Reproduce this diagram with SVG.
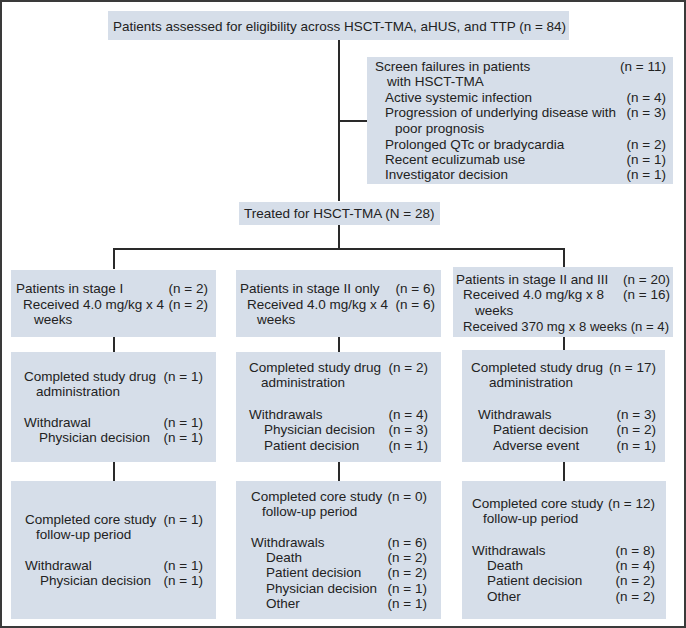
<svg xmlns="http://www.w3.org/2000/svg" width="686" height="628" viewBox="0 0 686 628">
<style>
.box{fill:#d6dee9;}
text{font-family:"Liberation Sans",Arial,sans-serif;font-size:13.5px;fill:#222;}
.r{text-anchor:end;}
.ln{stroke:#2a2a2a;stroke-width:2;fill:none;}
</style>
<rect x="1" y="1" width="684" height="626" fill="#fff" stroke="#3a3a3a" stroke-width="2"/>
<g id="connectors" class="ln">
<path d="M339 40V201"/>
<path d="M339 121H367"/>
<path d="M339 225V249"/>
<path d="M114 269V249H564V267"/>
<path d="M114 337V352M339 337V352M564 337V350"/>
<path d="M114 462V481M339 462V481M564 462V481"/>
</g>
<g id="assessed">
<rect class="box" x="108" y="11" width="461" height="29"/>
<text x="113" y="30.5">Patients assessed for eligibility across HSCT-TMA, aHUS, and TTP (n = 84)</text>
</g>
<g id="screen-failures">
<rect class="box" x="367" y="57" width="306" height="127"/>
<text x="375" y="71">Screen failures in patients</text><text class="r" x="666" y="71">(n = 11)</text>
<text x="387" y="86">with HSCT-TMA</text>
<text x="385" y="102">Active systemic infection</text><text class="r" x="666" y="102">(n = 4)</text>
<text x="385" y="117">Progression of underlying disease with</text><text class="r" x="666" y="117">(n = 3)</text>
<text x="395" y="133">poor prognosis</text>
<text x="385" y="148.5">Prolonged QTc or bradycardia</text><text class="r" x="666" y="148.5">(n = 2)</text>
<text x="385" y="164">Recent eculizumab use</text><text class="r" x="666" y="164">(n = 1)</text>
<text x="385" y="179">Investigator decision</text><text class="r" x="666" y="179">(n = 1)</text>
</g>
<g id="treated">
<rect class="box" x="239" y="202" width="201" height="23"/>
<text x="244" y="217.5">Treated for HSCT-TMA (N = 28)</text>
</g>
<g id="stage1">
<rect class="box" x="11" y="270" width="205" height="67"/>
<text x="16" y="293">Patients in stage I</text><text class="r" x="208" y="293">(n = 2)</text>
<text x="23" y="308.5">Received 4.0 mg/kg x 4</text><text class="r" x="208" y="308.5">(n = 2)</text>
<text x="34" y="324">weeks</text>
</g>
<g id="stage2">
<rect class="box" x="236" y="270" width="205" height="67"/>
<text x="240" y="293">Patients in stage II only</text><text class="r" x="435" y="293">(n = 6)</text>
<text x="247" y="308.5">Received 4.0 mg/kg x 4</text><text class="r" x="435" y="308.5">(n = 6)</text>
<text x="257" y="324">weeks</text>
</g>
<g id="stage23">
<rect class="box" x="453" y="267" width="220" height="70"/>
<text x="456" y="284">Patients in stage II and III</text><text class="r" x="670" y="284">(n = 20)</text>
<text x="463" y="299">Received 4.0 mg/kg x 8</text><text class="r" x="670" y="299">(n = 16)</text>
<text x="475" y="314.5">weeks</text>
<text x="463" y="330.5" textLength="206" lengthAdjust="spacingAndGlyphs">Received 370 mg x 8 weeks (n = 4)</text>
</g>
<g id="drug1">
<rect class="box" x="11" y="352" width="205" height="110"/>
<text x="24" y="380.5">Completed study drug</text><text class="r" x="203" y="380.5">(n = 1)</text>
<text x="36" y="395.5">administration</text>
<text x="24" y="427">Withdrawal</text><text class="r" x="203" y="427">(n = 1)</text>
<text x="39" y="442">Physician decision</text><text class="r" x="203" y="442">(n = 1)</text>
</g>
<g id="drug2">
<rect class="box" x="236" y="352" width="205" height="110"/>
<text x="249" y="372">Completed study drug</text><text class="r" x="428" y="372">(n = 2)</text>
<text x="261" y="387">administration</text>
<text x="249" y="419">Withdrawals</text><text class="r" x="428" y="419">(n = 4)</text>
<text x="264" y="434">Physician decision</text><text class="r" x="428" y="434">(n = 3)</text>
<text x="264" y="449.5">Patient decision</text><text class="r" x="428" y="449.5">(n = 1)</text>
</g>
<g id="drug3">
<rect class="box" x="462" y="350" width="203" height="112"/>
<text x="471" y="372">Completed study drug</text><text class="r" x="656" y="372">(n = 17)</text>
<text x="489" y="387">administration</text>
<text x="478" y="419">Withdrawals</text><text class="r" x="656" y="419">(n = 3)</text>
<text x="493" y="434">Patient decision</text><text class="r" x="656" y="434">(n = 2)</text>
<text x="493" y="449.5">Adverse event</text><text class="r" x="656" y="449.5">(n = 1)</text>
</g>
<g id="core1">
<rect class="box" x="11" y="481" width="205" height="138"/>
<text x="25" y="524">Completed core study</text><text class="r" x="203" y="524">(n = 1)</text>
<text x="36" y="538.5">follow-up period</text>
<text x="25" y="570">Withdrawal</text><text class="r" x="203" y="570">(n = 1)</text>
<text x="40" y="585">Physician decision</text><text class="r" x="203" y="585">(n = 1)</text>
</g>
<g id="core2">
<rect class="box" x="236" y="481" width="205" height="138"/>
<text x="251" y="500.5">Completed core study</text><text class="r" x="427" y="500.5">(n = 0)</text>
<text x="262" y="515.5">follow-up period</text>
<text x="251" y="547">Withdrawals</text><text class="r" x="427" y="547">(n = 6)</text>
<text x="266" y="562">Death</text><text class="r" x="427" y="562">(n = 2)</text>
<text x="266" y="577">Patient decision</text><text class="r" x="427" y="577">(n = 2)</text>
<text x="266" y="593">Physician decision</text><text class="r" x="427" y="593">(n = 1)</text>
<text x="266" y="608">Other</text><text class="r" x="427" y="608">(n = 1)</text>
</g>
<g id="core3">
<rect class="box" x="462" y="481" width="204" height="138"/>
<text x="472" y="508">Completed core study</text><text class="r" x="655" y="508">(n = 12)</text>
<text x="483" y="523">follow-up period</text>
<text x="472" y="554.5">Withdrawals</text><text class="r" x="655" y="554.5">(n = 8)</text>
<text x="487" y="569.5">Death</text><text class="r" x="655" y="569.5">(n = 4)</text>
<text x="487" y="585">Patient decision</text><text class="r" x="655" y="585">(n = 2)</text>
<text x="487" y="600.5">Other</text><text class="r" x="655" y="600.5">(n = 2)</text>
</g>
</svg>
